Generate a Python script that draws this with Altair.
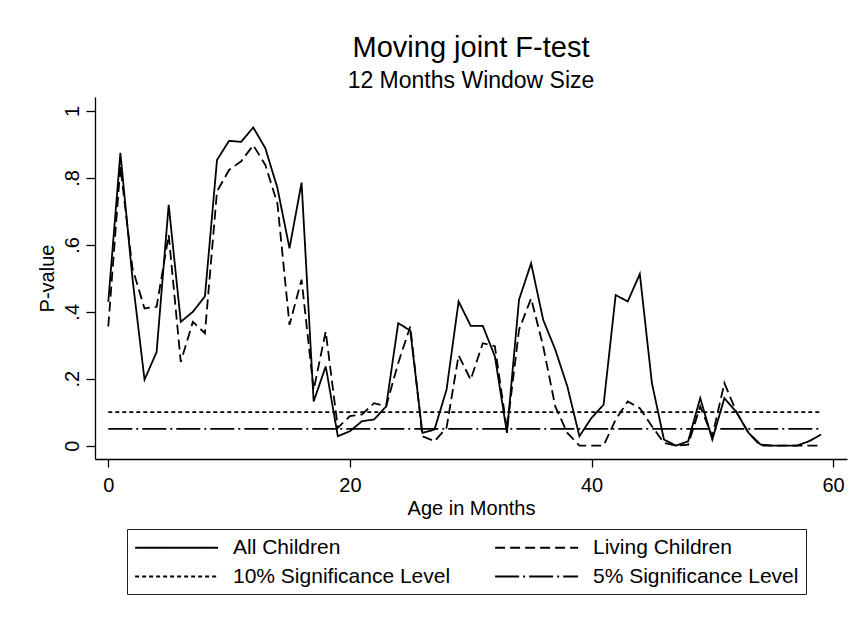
import altair as alt
import pandas as pd

# ---- data ----
months = list(range(60))
all_children = [
    0.43, 0.875, 0.50, 0.197, 0.28, 0.72, 0.37, 0.40, 0.446, 0.854,
    0.911, 0.908, 0.951, 0.889, 0.77, 0.59, 0.786, 0.132, 0.237, 0.028,
    0.043, 0.073, 0.078, 0.117, 0.366, 0.344, 0.038, 0.048, 0.167, 0.431,
    0.358, 0.358, 0.267, 0.038, 0.436, 0.545, 0.376, 0.287, 0.177, 0.028,
    0.083, 0.122, 0.45, 0.431, 0.513, 0.187, 0.018, 0.0, 0.013, 0.142,
    0.018, 0.142, 0.10, 0.038, 0.003, 0.0, 0.0, 0.0, 0.013, 0.033,
]
living_children = [
    0.356, 0.834, 0.53, 0.41, 0.415, 0.63, 0.25, 0.37, 0.336, 0.76,
    0.824, 0.85, 0.898, 0.839, 0.724, 0.361, 0.496, 0.167, 0.341, 0.053,
    0.088, 0.093, 0.127, 0.117, 0.247, 0.356, 0.028, 0.013, 0.053, 0.27,
    0.197, 0.306, 0.297, 0.048, 0.346, 0.44, 0.297, 0.117, 0.038, 0.0,
    0.0, 0.0, 0.078, 0.132, 0.112, 0.058, 0.008, 0.0, 0.003, 0.117,
    0.028, 0.187, 0.10, 0.038, 0.0, 0.0, 0.0, 0.0, 0.0, 0.0,
]
ref_months = [0, 59]
sig10 = [0.10, 0.10]
sig5 = [0.05, 0.05]

series_names = ["All Children", "Living Children",
                "10% Significance Level", "5% Significance Level"]
dash_styles = [[1, 0], [10, 5], [4, 3], [24, 4, 2, 4]]

x_ticks = [0, 20, 40, 60]
y_ticks = [0, 0.2, 0.4, 0.6, 0.8, 1.0]

rows = []
for m, v in zip(months, all_children):
    rows.append({"month": m, "value": v, "series": series_names[0]})
for m, v in zip(months, living_children):
    rows.append({"month": m, "value": v, "series": series_names[1]})
for m, v in zip(ref_months, sig10):
    rows.append({"month": m, "value": v, "series": series_names[2]})
for m, v in zip(ref_months, sig5):
    rows.append({"month": m, "value": v, "series": series_names[3]})
df = pd.DataFrame(rows)

FONT = "Liberation Sans"

lines = alt.Chart(df).mark_line(strokeWidth=1.8, color="black").encode(
    x=alt.X("month:Q",
            scale=alt.Scale(domain=[-1.1, 61.15], nice=False, zero=False),
            axis=alt.Axis(values=x_ticks, title="Age in Months", format="d",
                          labelFontSize=20, titleFontSize=20, tickSize=8,
                          labelPadding=8, titlePadding=3,
                          titleFontWeight="normal")),
    y=alt.Y("value:Q",
            scale=alt.Scale(domain=[-0.04, 1.042], nice=False, zero=False),
            axis=alt.Axis(values=y_ticks, title="P-value",
                          labelExpr="datum.value == 0 ? '0' : datum.value == 1 ? '1' : '.' + format(datum.value * 10, '.0f')",
                          labelAngle=-90, labelAlign="center",
                          labelBaseline="bottom", labelFontSize=20,
                          labelPadding=4, tickSize=9, titleFontSize=20,
                          titlePadding=5, titleFontWeight="normal")),
    strokeDash=alt.StrokeDash(
        "series:N",
        scale=alt.Scale(domain=series_names, range=dash_styles),
        sort=series_names,
        legend=alt.Legend(
            title=None, orient="none", legendX=32, legendY=432,
            columns=2, direction="horizontal",
            symbolType="M-1,0H7", symbolSize=430, symbolStrokeWidth=1.9,
            symbolStrokeColor="black", labelFontSize=21, labelFont=FONT,
            labelColor="black", labelOffset=76, labelLimit=400,
            columnPadding=40, rowPadding=7, padding=7,
            strokeColor="#222222", fillColor="white"),
    ),
    detail="series:N",
)

chart = lines.properties(
    width=752, height=362,
    autosize=alt.AutoSizeParams(type="none"),
    padding={"left": 95, "top": 97, "right": 10, "bottom": 170},
    title=alt.TitleParams(
        text="Moving joint F-test", subtitle="12 Months Window Size",
        fontSize=29, subtitleFontSize=23, font=FONT, subtitleFont=FONT,
        fontWeight="normal", color="black", subtitleColor="black",
        anchor="middle", offset=4, subtitlePadding=7),
).configure(
    font=FONT, background="white"
).configure_view(
    stroke="transparent"
).configure_axis(
    grid=False, domainColor="black", tickColor="black", domainWidth=1.3,
    tickWidth=1.3, labelColor="black", titleColor="black",
    labelFont=FONT, titleFont=FONT
)

chart.save("out.html", embed_options={"renderer": "svg", "actions": False})
